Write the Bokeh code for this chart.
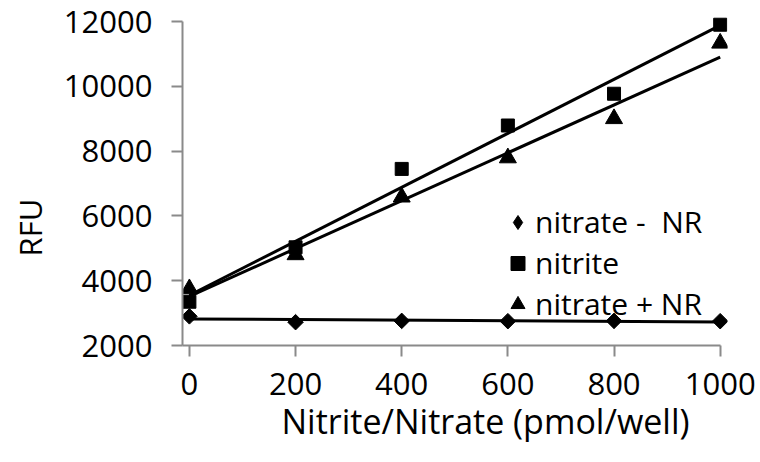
import numpy as np
from bokeh.plotting import figure
from bokeh.models import Range1d, Legend, LegendItem, FixedTicker, Title
from bokeh.embed import file_html
from bokeh.resources import INLINE

# ---- data ----
x = [0, 200, 400, 600, 800, 1000]
nitrate_minus_nr = [2900, 2720, 2760, 2750, 2760, 2750]
nitrite = [3350, 5030, 7450, 8790, 9770, 11900]
nitrate_plus_nr = [3750, 4800, 6580, 7790, 9000, 11330]
series_labels = ["nitrate -  NR", "nitrite", "nitrate + NR"]
x_ticks = [0, 200, 400, 600, 800, 1000]
y_ticks = [2000, 4000, 6000, 8000, 10000, 12000]
x_title = "Nitrite/Nitrate (pmol/well)"
y_title = "RFU"

FONT = "Open Sans"
AXIS_COL = "#8a8a8a"

p = figure(width=760, height=462,
           x_range=Range1d(-13, 1013.8), y_range=Range1d(2000, 12185),
           output_backend="svg", toolbar_location=None,
           min_border_left=180, min_border_right=33,
           min_border_top=15, min_border_bottom=117)
p.outline_line_color = None
p.grid.visible = False
p.background_fill_color = "white"
p.border_fill_color = "white"

# trend lines (least squares on the data)
xfit = np.array([x[0], x[-1]], dtype=float)
for ys in (nitrate_minus_nr, nitrite, nitrate_plus_nr):
    k, b = np.polyfit(x, ys, 1)
    p.line(xfit, k * xfit + b, line_color="black", line_width=3)

p.scatter(x, nitrate_minus_nr, marker="square", angle=np.pi / 4, size=11, color="black")
r_s = p.scatter(x, nitrite, marker="square", size=13, color="black")
r_t = p.scatter(x, nitrate_plus_nr, marker="triangle", size=17, color="black")
# legend-only glyph for the diamond series (placed far outside the visible ranges)
r_d_leg = p.scatter(x=[-1e6], y=[-1e6], marker="diamond", color="black")

for ax in (p.xaxis[0], p.yaxis[0]):
    ax.axis_line_color = AXIS_COL
    ax.axis_line_width = 2
    ax.major_tick_line_color = AXIS_COL
    ax.major_tick_line_width = 2
    ax.major_tick_in = 0
    ax.major_tick_out = 11
    ax.minor_tick_line_color = None
    ax.major_label_text_font = FONT
    ax.major_label_text_font_size = "31px"
    ax.major_label_text_color = "black"

p.xaxis.ticker = FixedTicker(ticks=x_ticks)
p.yaxis.ticker = FixedTicker(ticks=y_ticks)
p.xaxis.bounds = (-13, x_ticks[-1])
p.yaxis.bounds = (y_ticks[0], y_ticks[-1])
p.xaxis.major_label_standoff = 16
p.yaxis.major_label_standoff = 19

p.add_layout(Title(text=x_title, align="left", offset=99, vertical_align="top",
                   standoff=0, text_font=FONT, text_font_size="34px",
                   text_font_style="normal", text_color="black"), "below")
p.add_layout(Title(text=y_title, align="left", offset=89, vertical_align="top",
                   standoff=16, text_font=FONT, text_font_size="31px",
                   text_font_style="normal", text_color="black"), "left")

legend = Legend(items=[LegendItem(label=series_labels[0], renderers=[r_d_leg]),
                       LegendItem(label=series_labels[1], renderers=[r_s]),
                       LegendItem(label=series_labels[2], renderers=[r_t])],
                location=(318, 21), orientation="vertical",
                padding=0, margin=0, spacing=0,
                glyph_width=35, glyph_height=38, label_height=38, label_standoff=0,
                label_text_font=FONT, label_text_font_size="30px", label_text_color="black",
                border_line_color=None, background_fill_alpha=0)
p.add_layout(legend)

open("out.html", "w").write(file_html(p, INLINE))
